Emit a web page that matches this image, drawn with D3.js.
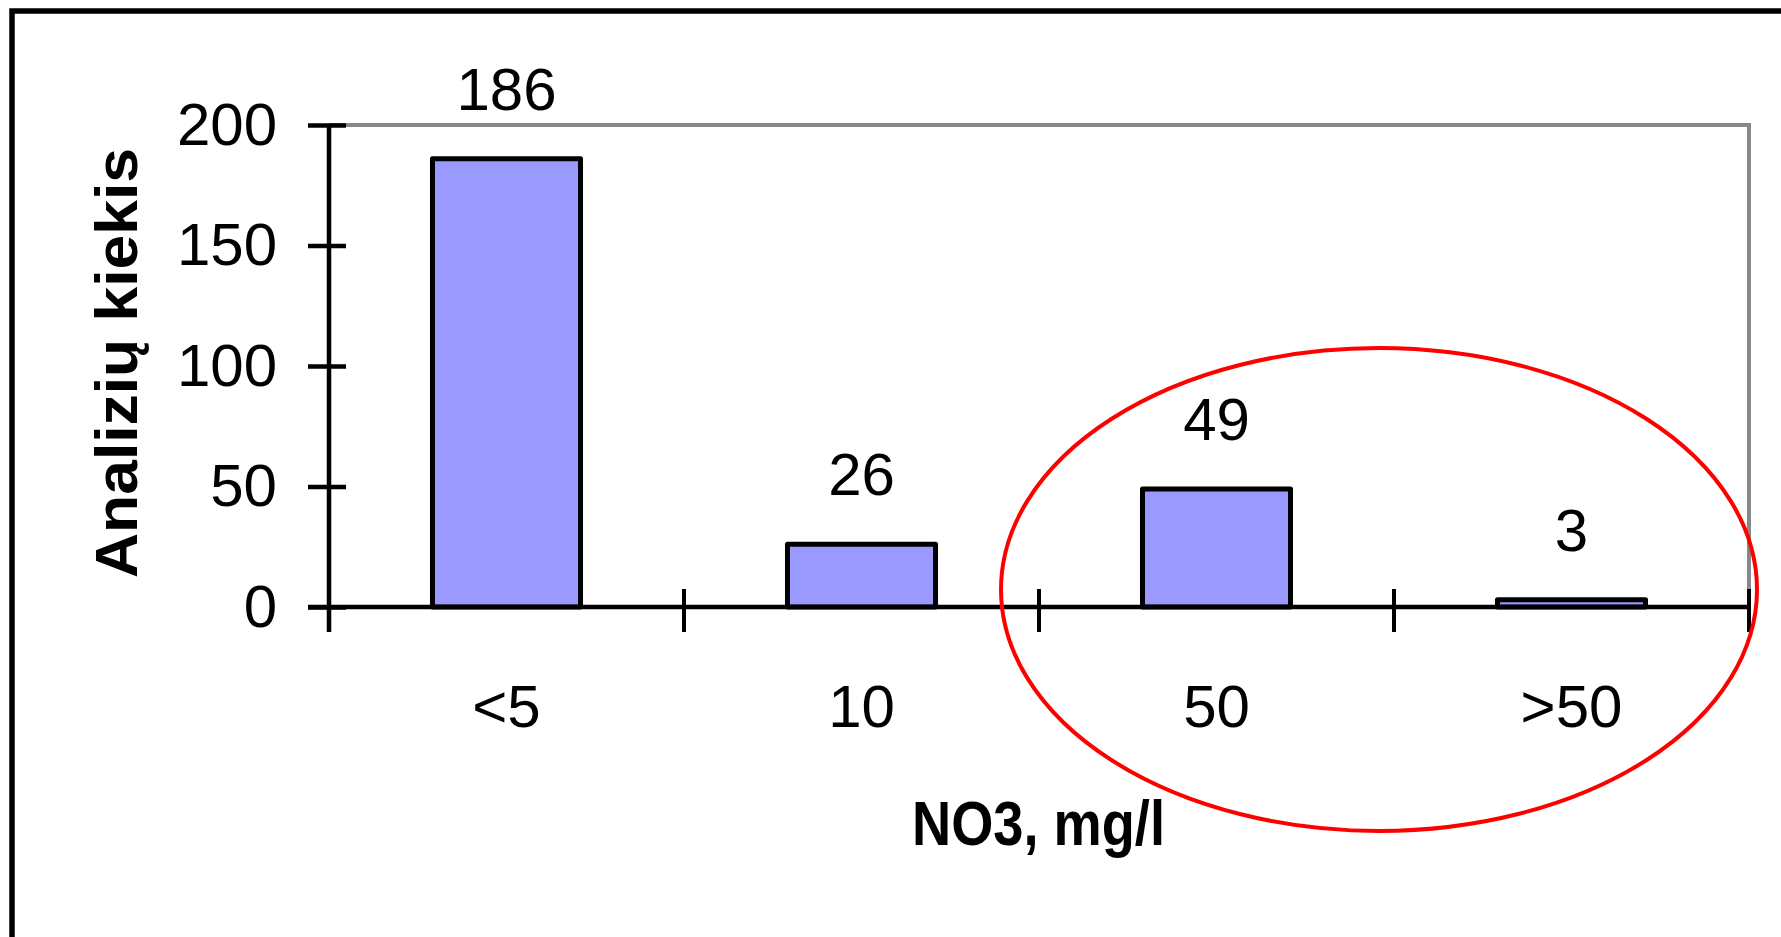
<!DOCTYPE html>
<html>
<head>
<meta charset="utf-8">
<script src="https://cdn.jsdelivr.net/npm/d3@7"></script>
<style>
  html, body { margin: 0; padding: 0; background: #fff; }
  svg { display: block; }
  text { font-family: "Liberation Sans", Arial, sans-serif; fill: #000; }
</style>
</head>
<body>
<svg id="chart" width="1781" height="937"></svg>
<script>
// ---- data ----
const categories = ["<5", "10", "50", ">50"];
const counts = [186, 26, 49, 3];
const yTicks = [0, 50, 100, 150, 200];
const yTitle = "Analizių kiekis";
const xTitle = "NO3, mg/l";

// ---- layout ----
const W = 1781, H = 937;
const plot = { left: 329, right: 1749, top: 125, bottom: 607 };
const svg = d3.select("#chart");

const x = d3.scaleBand().domain(categories).range([plot.left, plot.right]).paddingInner(0).paddingOuter(0);
const y = d3.scaleLinear().domain([0, 200]).range([plot.bottom, plot.top]);
const barW = x.bandwidth() * 0.417;

// outer frame (extends past the picture on right/bottom)
svg.append("rect").attr("x", 12).attr("y", 11).attr("width", W + 40).attr("height", H + 40)
  .attr("fill", "none").attr("stroke", "#000").attr("stroke-width", 5.5);

// plot area grey border (top and right)
svg.append("path")
  .attr("d", `M${plot.left},${y(200)}H${plot.right}V${y(0)}`)
  .attr("fill", "none").attr("stroke", "#888").attr("stroke-width", 4);

// bars
svg.append("g").selectAll("rect").data(counts).join("rect")
  .attr("x", (d, i) => x(categories[i]) + (x.bandwidth() - barW) / 2)
  .attr("y", d => y(d))
  .attr("width", barW)
  .attr("height", d => y(0) - y(d))
  .attr("fill", "#9999FF").attr("stroke", "#000").attr("stroke-width", 5)
  .attr("stroke-linejoin", "round");

// value labels
svg.append("g").selectAll("text").data(counts).join("text")
  .attr("x", (d, i) => x(categories[i]) + x.bandwidth() / 2)
  .attr("y", d => y(d) - 49)
  .attr("text-anchor", "middle")
  .attr("font-size", 60)
  .text(d => d);

// y axis
const yAxis = svg.append("g").attr("transform", `translate(${plot.left},0)`)
  .call(d3.axisLeft(y).tickValues(yTicks).tickSize(18).tickPadding(34).tickFormat(d3.format("d")));
yAxis.select(".domain").attr("stroke", "#000").attr("stroke-width", 4.5)
  .attr("d", `M0,${y(200)}V${y(0) + 25}`);
yAxis.selectAll(".tick line").attr("x1", -21).attr("x2", 17).attr("stroke-width", 4.5);
yAxis.selectAll(".tick text").attr("font-size", 60).attr("font-family", "Liberation Sans, Arial, sans-serif");

// x axis (labels at category centres)
const xAxis = svg.append("g").attr("transform", `translate(0,${plot.bottom})`)
  .call(d3.axisBottom(x).tickSize(0).tickPadding(77));
xAxis.select(".domain").attr("stroke", "#000").attr("stroke-width", 4.5)
  .attr("d", `M${plot.left - 21},0H${plot.right}`);
xAxis.selectAll(".tick text").attr("font-size", 60).attr("font-family", "Liberation Sans, Arial, sans-serif");

// x boundary ticks (between categories)
const bounds = categories.map(c => x(c)).concat([x(categories[categories.length - 1]) + x.bandwidth()]);
svg.append("g").selectAll("line").data(bounds).join("line")
  .attr("x1", d => d).attr("x2", d => d)
  .attr("y1", plot.bottom - 18).attr("y2", plot.bottom + 25)
  .attr("stroke", "#000").attr("stroke-width", 4);

// axis titles
svg.append("text")
  .attr("transform", `translate(137,363) rotate(-90)`)
  .attr("text-anchor", "middle")
  .attr("font-size", 59).attr("font-weight", "bold")
  .attr("textLength", 430).attr("lengthAdjust", "spacingAndGlyphs")
  .text(yTitle);

svg.append("text")
  .attr("x", 1038.5).attr("y", 845)
  .attr("text-anchor", "middle")
  .attr("font-size", 63).attr("font-weight", "bold")
  .attr("textLength", 253).attr("lengthAdjust", "spacingAndGlyphs")
  .text(xTitle);

// red highlight ellipse
svg.append("ellipse")
  .attr("cx", 1379).attr("cy", 589.5).attr("rx", 378).attr("ry", 241.5)
  .attr("fill", "none").attr("stroke", "#FF0000").attr("stroke-width", 4);
</script>
</body>
</html>
